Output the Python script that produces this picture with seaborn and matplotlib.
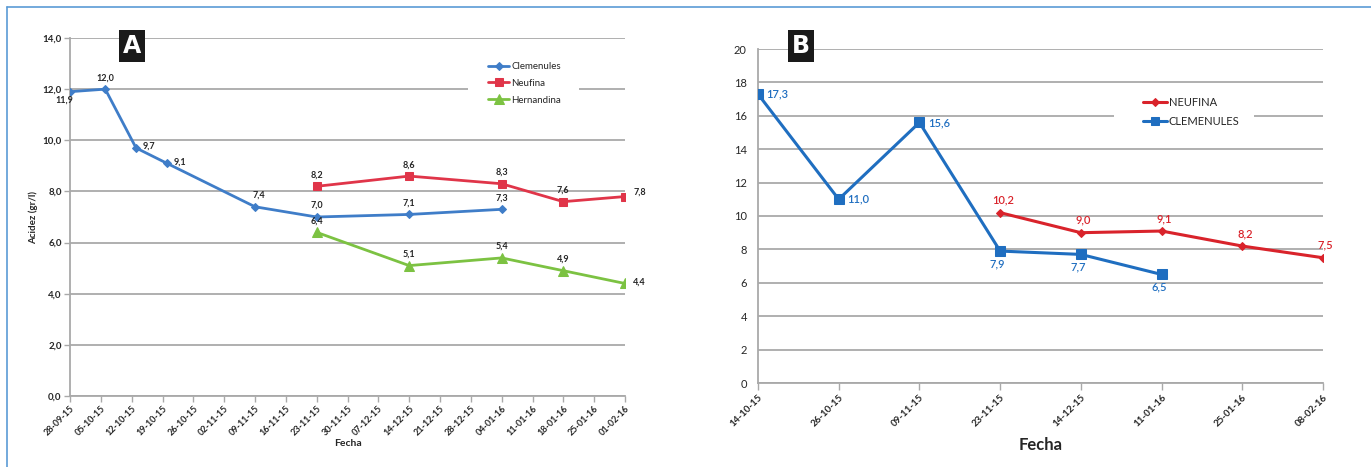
import matplotlib
matplotlib.use("Agg")
import matplotlib.pyplot as plt
import matplotlib.dates as mdates
from matplotlib.lines import Line2D
from matplotlib.patches import Rectangle
from matplotlib.ticker import FuncFormatter, MultipleLocator
import seaborn as sns
import pandas as pd

sns.set_theme(style="white")
plt.rcParams['font.family'] = ['Lato', 'DejaVu Sans']

# ---- Panel A: acidez por variedad (fecha real) ----
fechas_clem_a = ["28-09-15", "06-10-15", "13-10-15", "20-10-15", "09-11-15",
                 "23-11-15", "14-12-15", "04-01-16"]
clem_a = [11.9, 12.0, 9.7, 9.1, 7.4, 7.0, 7.1, 7.3]
fechas_neuf_a = ["23-11-15", "14-12-15", "04-01-16", "18-01-16", "01-02-16"]
neuf_a = [8.2, 8.6, 8.3, 7.6, 7.8]
fechas_hern_a = ["23-11-15", "14-12-15", "04-01-16", "18-01-16", "01-02-16"]
hern_a = [6.4, 5.1, 5.4, 4.9, 4.4]

# ---- Panel B: fechas de muestreo (eje de categorías) ----
fechas_b = ["14-10-15", "26-10-15", "09-11-15", "23-11-15",
            "14-12-15", "11-01-16", "25-01-16", "08-02-16"]
fechas_clem_b = ["14-10-15", "26-10-15", "09-11-15", "23-11-15", "14-12-15", "11-01-16"]
clem_b = [17.3, 11.0, 15.6, 7.9, 7.7, 6.5]
fechas_neuf_b = ["23-11-15", "14-12-15", "11-01-16", "25-01-16", "08-02-16"]
neuf_b = [10.2, 9.0, 9.1, 8.2, 7.5]

W, H = 1371, 467
fig = plt.figure(figsize=(W / 100, H / 100), dpi=100)
fig.patch.set_facecolor("white")


def fx(px):
    return px / W


def fy(py):
    return 1 - py / H


GRID = "#a9a9a9"
TXT = "#262626"
coma = lambda v: f"{v:.1f}".replace(".", ",")


def legend_backdrop(ax, x0, x1, y0, y1):
    """White box behind a legend so the gridlines stop around it."""
    ax.add_artist(Rectangle((fx(x0), fy(y1)), fx(x1) - fx(x0), fy(y0) - fy(y1),
                            transform=fig.transFigure, facecolor="white",
                            edgecolor="none", zorder=1.2))


# ================= Panel A =================
axA = fig.add_axes([fx(70), fy(396), fx(625) - fx(70), fy(38) - fy(396)])

BLUE_A, RED_A, GREEN_A = "#3f7dc8", "#e03549", "#7cc242"


def to_dt(lst):
    return pd.to_datetime(lst, format="%d-%m-%y")


dfA = [
    ("Clemenules", fechas_clem_a, clem_a, BLUE_A, "D", 4.5),
    ("Neufina", fechas_neuf_a, neuf_a, RED_A, "s", 6),
    ("Hernandina", fechas_hern_a, hern_a, GREEN_A, "^", 7),
]
for name, f, v, c, m, ms in dfA:
    d = pd.DataFrame({"fecha": to_dt(f), "acidez": v})
    sns.lineplot(data=d, x="fecha", y="acidez", ax=axA, color=c, marker=m,
                 markersize=ms, markeredgecolor=c, linewidth=2, label=name,
                 legend=False, zorder=3)

axA.set_ylim(0, 14)
axA.set_xlim(pd.Timestamp("2015-09-28"), pd.Timestamp("2016-02-01"))
axA.yaxis.set_major_locator(MultipleLocator(2))
axA.yaxis.set_major_formatter(FuncFormatter(lambda v, p: coma(v)))
axA.xaxis.set_major_locator(mdates.WeekdayLocator(byweekday=mdates.MO))
axA.xaxis.set_major_formatter(mdates.DateFormatter("%d-%m-%y"))
axA.grid(axis="y", color=GRID, linewidth=1.3)
axA.set_axisbelow(True)
for s in ["top", "right"]:
    axA.spines[s].set_visible(False)
for s in ["left", "bottom"]:
    axA.spines[s].set_color(GRID)
    axA.spines[s].set_linewidth(1.3)
axA.tick_params(axis="both", length=4, color=GRID, width=1, direction="out",
                bottom=True, left=True, pad=2)
for lab in axA.get_yticklabels():
    lab.set_fontsize(7)
    lab.set_fontweight("bold")
    lab.set_color(TXT)
for lab in axA.get_xticklabels():
    lab.set_fontsize(6.5)
    lab.set_fontweight("bold")
    lab.set_color(TXT)
    lab.set_rotation(45)
    lab.set_ha("right")
    lab.set_rotation_mode("anchor")
axA.set_xlabel("Fecha", fontsize=7.5, fontweight="bold", color=TXT, labelpad=1)
axA.set_ylabel("Acidez (gr/l)", fontsize=7, fontweight="bold", color=TXT, labelpad=3)

# Etiquetas de datos del panel A
offA = {
    ("Clemenules", 0): (-4, -3, "center", "top"),
    ("Clemenules", 2): (5, 1, "left", "center"),
    ("Clemenules", 3): (5, 1, "left", "center"),
    ("Clemenules", 4): (3, 5, "center", "bottom"),
    ("Neufina", 4): (6, 3, "left", "center"),
    ("Hernandina", 4): (6, 1, "left", "center"),
}
for name, f, v, c, m, ms in dfA:
    for i, (d, val) in enumerate(zip(to_dt(f), v)):
        dx, dy, ha, va = offA.get((name, i), (0, 5, "center", "bottom"))
        axA.annotate(coma(val), (mdates.date2num(d), val), xytext=(dx, dy),
                     textcoords="offset points", ha=ha, va=va, fontsize=6.5,
                     fontweight="bold", color=TXT, zorder=4)

legend_backdrop(axA, 468, 579, 56, 112)
legA = axA.legend(loc="upper left", bbox_to_anchor=(fx(488), fy(62)),
                  bbox_transform=fig.transFigure, frameon=False, fontsize=7,
                  handlelength=2.2, handletextpad=0.2, labelspacing=0.8,
                  borderpad=0, borderaxespad=0)
for t in legA.get_texts():
    t.set_color(TXT)

# ================= Panel B =================
axB = fig.add_axes([fx(758), fy(383), fx(1323) - fx(758), fy(49) - fy(383)])
BLUE_B, RED_B = "#1f6ec0", "#d9232b"

pos = {f: i for i, f in enumerate(fechas_b)}
dfB = [
    ("NEUFINA", fechas_neuf_b, neuf_b, RED_B, "D", 4.5),
    ("CLEMENULES", fechas_clem_b, clem_b, BLUE_B, "s", 7.5),
]
for name, f, v, c, m, ms in dfB:
    d = pd.DataFrame({"x": [pos[k] for k in f], "acidez": v})
    sns.lineplot(data=d, x="x", y="acidez", ax=axB, color=c, marker=m,
                 markersize=ms, markeredgecolor=c, linewidth=2.2, label=name,
                 legend=False, zorder=3)

axB.set_ylim(0, 20)
axB.set_xlim(0, len(fechas_b) - 1)
axB.yaxis.set_major_locator(MultipleLocator(2))
axB.set_xticks(range(len(fechas_b)))
axB.set_xticklabels(fechas_b)
axB.grid(axis="y", color=GRID, linewidth=1.3)
axB.set_axisbelow(True)
axB.spines["top"].set_visible(False)
axB.spines["right"].set_visible(False)
for s in ["left", "bottom"]:
    axB.spines[s].set_color(GRID)
    axB.spines[s].set_linewidth(1.3)
axB.tick_params(axis="x", length=5, color=GRID, width=1, direction="out",
                bottom=True, pad=2)
axB.tick_params(axis="y", length=0, pad=8)
for lab in axB.get_yticklabels():
    lab.set_fontsize(8)
    lab.set_color(TXT)
for lab in axB.get_xticklabels():
    lab.set_fontsize(7)
    lab.set_fontweight("bold")
    lab.set_color(TXT)
    lab.set_rotation(45)
    lab.set_ha("right")
    lab.set_rotation_mode("anchor")
axB.set_xlabel("Fecha", fontsize=12, fontweight="bold", color=TXT, labelpad=6)
axB.set_ylabel("")

offB = {
    "CLEMENULES": {0: (6, 0, "left", "center"), 1: (6, 0, "left", "center"),
                   2: (6, 0, "left", "center")},
}
for name, f, v, c, m, ms in dfB:
    for i, (k, val) in enumerate(zip(f, v)):
        if name == "CLEMENULES":
            dx, dy, ha, va = offB[name].get(i, (-2, -5, "center", "top"))
        else:
            dx, dy, ha, va = (2, 5, "center", "bottom")
        axB.annotate(coma(val), (pos[k], val), xytext=(dx, dy),
                     textcoords="offset points", ha=ha, va=va, fontsize=8,
                     fontweight="semibold", color=c, zorder=4)

legend_backdrop(axB, 1114, 1254, 90, 134)
legB = axB.legend(loc="upper left", bbox_to_anchor=(fx(1143), fy(97)),
                  bbox_transform=fig.transFigure, frameon=False, fontsize=8,
                  handlelength=2.2, handletextpad=0.1, labelspacing=0.75,
                  borderpad=0, borderaxespad=0, markerscale=0.8)
for t in legB.get_texts():
    t.set_color(TXT)

# Etiquetas de panel
for txt, cx in [("A", 132), ("B", 801)]:
    fig.text(fx(cx), fy(46), txt, ha="center", va="center", fontsize=17,
             fontweight="bold", color="white", family=["DejaVu Sans"],
             bbox=dict(boxstyle="square,pad=0.15", facecolor="#1a1a1a",
                       edgecolor="none"))

# Marco fino azul (superior e izquierdo)
BORDER = "#5b9bd5"
fig.add_artist(Line2D([fx(7), 1], [fy(7), fy(7)], color=BORDER, linewidth=1.2,
                      transform=fig.transFigure))
fig.add_artist(Line2D([fx(7), fx(7)], [fy(7), 0], color=BORDER, linewidth=1.2,
                      transform=fig.transFigure))

fig.savefig("out.png", dpi=100, facecolor="white")
